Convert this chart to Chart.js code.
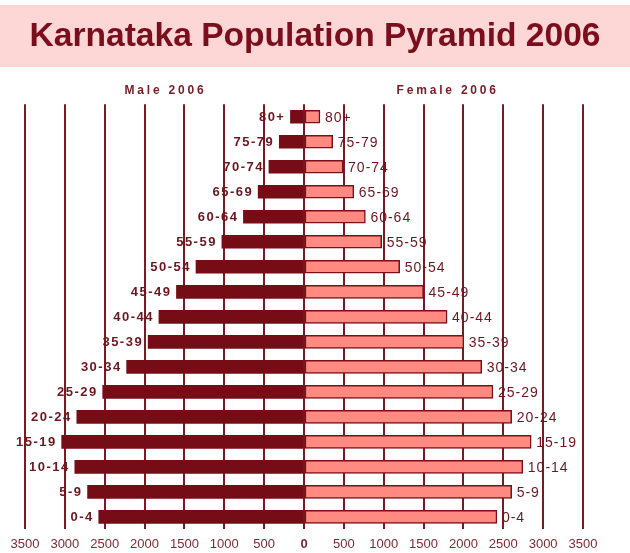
<!DOCTYPE html>
<html>
<head>
<meta charset="utf-8">
<script src="https://cdn.jsdelivr.net/npm/chart.js@4/dist/chart.umd.min.js"></script>
<style>
  html, body { margin: 0; padding: 0; background: #ffffff; }
  #wrap { width: 630px; height: 553px; }
</style>
</head>
<body>
<div id="wrap"><canvas id="c" width="630" height="553"></canvas></div>
<script>
// ---- data ----
const titleText = 'Karnataka Population Pyramid 2006';
const maleLabel = 'Male 2006';
const femaleLabel = 'Female 2006';
const ageGroups = ['80+', '75-79', '70-74', '65-69', '60-64', '55-59', '50-54', '45-49', '40-44',
                   '35-39', '30-34', '25-29', '20-24', '15-19', '10-14', '5-9', '0-4'];
const maleValues = [170, 310, 440, 575, 760, 1030, 1355, 1600, 1820, 1955, 2225, 2525, 2850, 3040, 2875, 2715, 2575];
const femaleValues = [200, 360, 490, 625, 770, 975, 1200, 1500, 1795, 2005, 2230, 2370, 2605, 2850, 2745, 2605, 2420];
const axisMax = 3500;
const axisStep = 500;

const DARK = '#760d16';
const TEXT = '#6e1620';

const bgPlugin = {
  id: 'bg',
  beforeDraw(chart) {
    const ctx = chart.ctx;
    ctx.save();
    ctx.fillStyle = '#ffffff';
    ctx.fillRect(0, 0, chart.width, chart.height);
    ctx.fillStyle = '#fdd6d6';
    ctx.fillRect(0, 5, chart.width, 62);
    ctx.restore();
  }
};

const labelPlugin = {
  id: 'barLabels',
  afterDatasetsDraw(chart) {
    const ctx = chart.ctx;
    const mMeta = chart.getDatasetMeta(0);
    const fMeta = chart.getDatasetMeta(1);
    ctx.save();
    ctx.textBaseline = 'middle';
    ctx.fillStyle = TEXT;
    ageGroups.forEach((lab, i) => {
      const m = mMeta.data[i];
      const f = fMeta.data[i];
      ctx.font = 'bold 13px "Liberation Sans", Arial, sans-serif';
      ctx.letterSpacing = '1.5px';
      ctx.textAlign = 'right';
      ctx.fillText(lab, m.x - 5, m.y + 1);
      ctx.font = '14px "Liberation Sans", Arial, sans-serif';
      ctx.letterSpacing = '1px';
      ctx.textAlign = 'left';
      ctx.fillText(lab, f.x + 5, f.y + 1);
    });
    // series headers
    const xs = chart.scales.x;
    const top = chart.chartArea.top;
    ctx.font = 'bold 12px "Liberation Sans", Arial, sans-serif';
    ctx.letterSpacing = '2.8px';
    ctx.textAlign = 'center';
    ctx.fillStyle = '#7a2029';
    ctx.fillText(maleLabel, xs.getPixelForValue(-1750) + 1, top - 14);
    ctx.fillText(femaleLabel, xs.getPixelForValue(1790) + 1, top - 14);
    ctx.letterSpacing = '0px';
    ctx.restore();
  }
};

new Chart(document.getElementById('c'), {
  type: 'bar',
  data: {
    labels: ageGroups,
    datasets: [
      {
        label: maleLabel,
        data: maleValues.map(v => -v),
        backgroundColor: DARK,
        borderColor: DARK,
        borderWidth: 0,
        barThickness: 13,
        grouped: false
      },
      {
        label: femaleLabel,
        data: femaleValues,
        backgroundColor: '#ff8a82',
        borderColor: '#7a1018',
        borderWidth: 1.5,
        borderSkipped: false,
        barThickness: 13,
        grouped: false
      }
    ]
  },
  options: {
    indexAxis: 'y',
    responsive: false,
    animation: false,
    devicePixelRatio: 1,
    layout: { padding: { left: 0, right: 0, top: 0, bottom: -7 } },
    plugins: {
      legend: { display: false },
      tooltip: { enabled: false },
      title: {
        display: true,
        text: titleText,
        color: '#7b0e1c',
        font: { family: '"Liberation Sans", Arial, sans-serif', size: 33.6, weight: 'bold' },
        padding: { top: 16.9, bottom: 47 }
      }
    },
    scales: {
      x: {
        min: -axisMax,
        max: axisMax,
        border: { display: false },
        grid: { color: '#7a1a22', lineWidth: 2, drawTicks: false, tickLength: 0 },
        ticks: {
          stepSize: axisStep,
          padding: 7.5,
          maxRotation: 0,
          autoSkip: false,
          color: '#7d2a30',
          font: (c) => ({
            family: '"Liberation Sans", Arial, sans-serif',
            size: 13,
            weight: (c.tick && c.tick.value === 0) ? 'bold' : 'normal'
          }),
          callback: (v) => String(Math.abs(v))
        }
      },
      y: {
        position: 'left',
        ticks: { display: false },
        grid: { display: false },
        border: { display: false },
        afterFit: (s) => { s.width = 25; }
      },
      y2: {
        type: 'category',
        position: 'right',
        ticks: { display: false },
        grid: { display: false },
        border: { display: false },
        afterFit: (s) => { s.width = 47; }
      }
    }
  },
  plugins: [bgPlugin, labelPlugin]
});
</script>
</body>
</html>
